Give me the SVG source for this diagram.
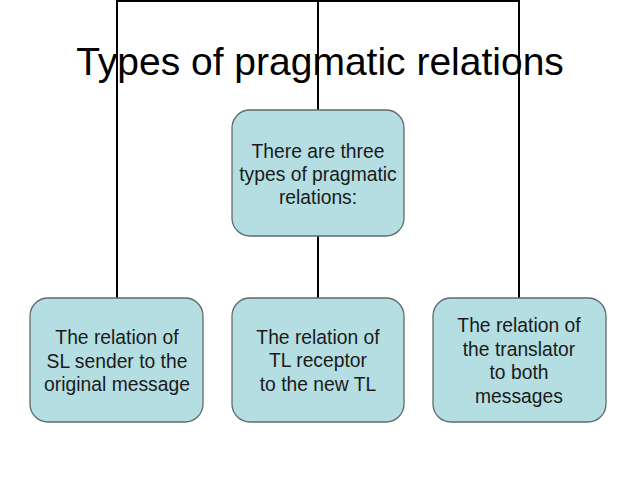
<svg xmlns="http://www.w3.org/2000/svg" width="640" height="480" viewBox="0 0 640 480">
<style>
.box{fill:#b4dee1;stroke:#5f6b6c;stroke-width:1.3}
.t{font-family:"Liberation Sans",Arial,sans-serif;font-size:19.3px;fill:#1a1a1a;text-anchor:middle}
.title{font-family:"Liberation Sans",Arial,sans-serif;font-size:39px;fill:#000;text-anchor:middle}
.c{stroke:#000;stroke-width:2;fill:none}
</style>
<rect width="640" height="480" fill="#fff"/>
<g id="connectors">
<path class="c" d="M117,298 V1 H519 V298"/>
<path class="c" d="M318,1 V110"/>
<path class="c" d="M318,236 V298"/>
</g>
<text class="title" x="320" y="75">Types of pragmatic relations</text>
<g id="root">
<rect class="box" x="232" y="110" width="172" height="126" rx="18"/>
<text class="t" x="318" y="158">There are three</text>
<text class="t" x="318" y="181">types of pragmatic</text>
<text class="t" x="318" y="204">relations:</text>
</g>
<g id="left">
<rect class="box" x="30" y="298" width="173" height="124" rx="18"/>
<text class="t" x="117" y="344">The relation of</text>
<text class="t" x="117" y="368">SL sender to the</text>
<text class="t" x="117" y="391">original message</text>
</g>
<g id="middle">
<rect class="box" x="232" y="298" width="172" height="124" rx="18"/>
<text class="t" x="318" y="344">The relation of</text>
<text class="t" x="318" y="367">TL receptor</text>
<text class="t" x="318" y="391">to the new TL</text>
</g>
<g id="right">
<rect class="box" x="433" y="298" width="173" height="124" rx="18"/>
<text class="t" x="519" y="332">The relation of</text>
<text class="t" x="519" y="356">the translator</text>
<text class="t" x="519" y="379">to both</text>
<text class="t" x="519" y="403">messages</text>
</g>
</svg>
